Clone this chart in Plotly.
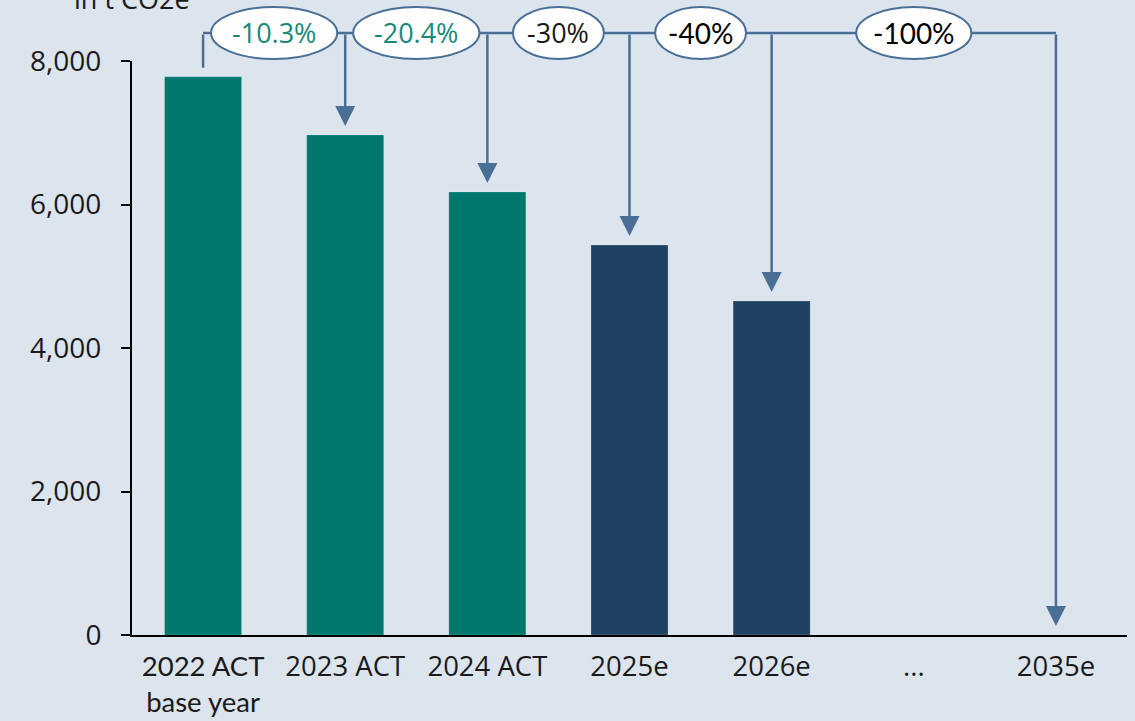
import plotly.graph_objects as go

categories = ["2022 ACT base year", "2023 ACT", "2024 ACT", "2025e", "2026e", "...", "2035e"]
tick_labels = ['<span style="font-family:Lato">2022 ACT</span><br><span style="font-family:Lato">base year</span>',
               "2023 ACT", "2024 ACT", "2025e", "2026e", "...", "2035e"]
emissions = [7780, 6970, 6175, 5435, 4655]
bar_colors = ["#00776d", "#00776d", "#00776d", "#1f4263", "#1f4263"]
targets_value = [6970, 6175, 5435, 4655, 0]      # arrow heads (2023..2026, 2035)
targets_idx = [1, 2, 3, 4, 6]
reductions = ["-10.3%", "-20.4%", "-30%", "-40%", "-100%"]
reduction_pos = [0.5, 1.5, 2.5, 3.5, 5.0]
reduction_halfwidth = [0.444, 0.444, 0.32, 0.32, 0.405]
reduction_colors = ["#16897a", "#16897a", "#1a1a1a", "#000000", "#000000"]
reduction_fonts = ["Open Sans", "Open Sans", "Open Sans", "Lato", "Lato"]
reduction_sizes = [27, 27, 27, 28, 28]

BG = "#dce4ee"
ARROW = "#4a6f96"
LINE_Y_PAPER = 1.0488
LINE_Y_DATA = 8390

fig = go.Figure()
fig.add_trace(go.Bar(
    x=categories[:len(emissions)], y=emissions,
    marker=dict(color=bar_colors, line=dict(color="rgba(255,255,255,0.2)", width=1)),
    width=0.542, hoverinfo="skip"))

shapes = []
annotations = []

# horizontal connector
shapes.append(dict(type="line", xref="x", yref="paper", x0=0, x1=targets_idx[-1],
                   y0=LINE_Y_PAPER, y1=LINE_Y_PAPER, line=dict(color=ARROW, width=2.5), layer="above"))

# base-year stub (no arrow head)
annotations.append(dict(x=0, y=emissions[0], xref="x", yref="y", axref="x", ayref="y",
                        ax=0, ay=LINE_Y_DATA, text="", showarrow=True, arrowhead=0,
                        arrowwidth=2.5, arrowcolor=ARROW, standoff=9))
# arrows
for i, v in zip(targets_idx, targets_value):
    annotations.append(dict(x=i, y=v, xref="x", yref="y", axref="x", ayref="y",
                            ax=i, ay=LINE_Y_DATA, text="", showarrow=True, arrowhead=2,
                            arrowsize=1.6, arrowwidth=2.5, arrowcolor=ARROW, standoff=9))

# ellipses + labels
for txt, p, hw, c, f, s in zip(reductions, reduction_pos, reduction_halfwidth,
                               reduction_colors, reduction_fonts, reduction_sizes):
    shapes.append(dict(type="circle", xref="x", yref="paper", x0=p - hw, x1=p + hw,
                       y0=1.0035, y1=1.094, fillcolor="white",
                       line=dict(color=ARROW, width=2), layer="above"))
    annotations.append(dict(x=p, y=LINE_Y_PAPER, xref="x", yref="paper", text=txt,
                            showarrow=False, font=dict(family=f, size=s, color=c),
                            xanchor="center", yanchor="middle"))

# unit label (partly cut off at the top)
annotations.append(dict(x=0.0, y=1.074, xref="paper", yref="paper", text="in t CO2e",
                        showarrow=False, xanchor="center", yanchor="bottom",
                        font=dict(family="Open Sans", size=27, color="#1a1a1a")))

fig.update_layout(
    width=1135, height=721,
    margin=dict(l=132, r=8, t=61, b=86, autoexpand=False),
    paper_bgcolor=BG, plot_bgcolor=BG,
    showlegend=False,
    shapes=shapes, annotations=annotations,
    font=dict(family="Open Sans", size=27, color="#1a1a1a"),
    xaxis=dict(type="category", categoryorder="array", categoryarray=categories,
               range=[-0.5, 6.5], tickvals=categories, ticktext=tick_labels,
               showline=True, linecolor="black", linewidth=2, ticks="",
               showgrid=False, zeroline=False, automargin=False, ticklabelstandoff=6,
               tickfont=dict(size=27.5, color="#1a1a1a")),
    yaxis=dict(range=[0, 8000], tickvals=[0, 2000, 4000, 6000, 8000], tickformat=",",
               showline=True, linecolor="black", linewidth=2, ticks="outside",
               ticklen=9, tickwidth=2, tickcolor="black", showgrid=False, zeroline=False,
               automargin=False, ticklabelstandoff=14,
               tickfont=dict(size=28, color="#1a1a1a")),
)

fig.write_html("out.html", config={"displayModeBar": False},
               post_script="document.body.style.margin='0';document.body.style.overflow='hidden';"
                           "document.body.style.background='" + BG + "';")
